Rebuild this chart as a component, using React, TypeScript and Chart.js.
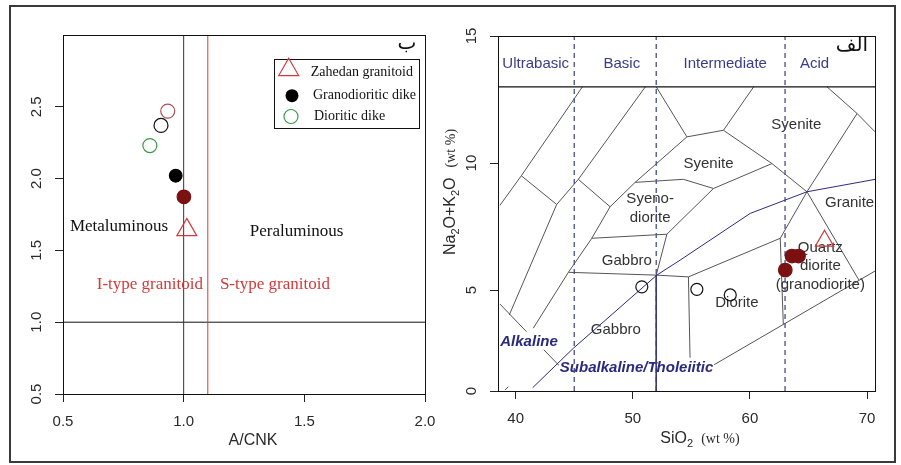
import React, { useEffect, useRef } from 'react';
import { Chart, registerables } from 'chart.js';

Chart.register(...registerables);

type P = [number, number];

// ================= Panel "ب" : A/CNK vs A/NK =================
const ACNK_RANGE: P = [0.5, 2.0];
const ANK_RANGE: P = [0.5, 3.0];
const ACNK_TICKS = [0.5, 1.0, 1.5, 2.0];
const ANK_TICKS = [0.5, 1.0, 1.5, 2.0, 2.5];

const ACNK_ZAHEDAN: P[] = [[1.013, 1.643]];
const ACNK_GRANODIORITIC: P[] = [[0.967, 2.02]];
const ACNK_DIORITIC: P[] = [[0.86, 2.23]];
const ACNK_OPEN_BLACK: P[] = [[0.906, 2.37]];
const ACNK_OPEN_ROSE: P[] = [[0.934, 2.47]];
const ACNK_FILLED_RED: P[] = [[1.001, 1.873]];

const ACNK_META_PERA = 1.0; // vertical black line
const ACNK_I_S = 1.1; // vertical red line
const ANK_LIMIT = 1.0; // horizontal line

const ACNK_NOTES = ['Metaluminous', 'Peraluminous', 'I-type granitoid', 'S-type granitoid'];
const ACNK_NOTE_X = [0.732, 1.468, 0.86, 1.378];
const ACNK_NOTE_Y = [1.663, 1.63, 1.259, 1.26];
const ACNK_NOTE_RED = [false, false, true, true];
const LEGEND_LABELS = ['Zahedan granitoid', 'Granodioritic dike', 'Dioritic dike'];

// ================= Panel "الف" : TAS (plutonic) =================
const SIO2_RANGE: P = [38.49, 70.68];
const ALK_RANGE: P = [1.03, 15];
const SIO2_TICKS = [40, 50, 60, 70];
const ALK_TICKS = [0, 5, 10, 15];

const CLASS_BOUNDS = [45, 52, 63];
const CLASS_BAND_Y = 13;
const CLASS_NAMES = ['Ultrabasic', 'Basic', 'Intermediate', 'Acid'];
const CLASS_NAME_X = [41.71, 49.06, 57.89, 65.52];
const CLASS_NAME_Y = 13.92;

const TAS_B1: P[] = [[38.66, 8.34], [40.48, 9.5], [45.7, 13.0]];
const TAS_B2: P[] = [[40.48, 9.5], [43.5, 8.37], [39.45, 4.02]];
const TAS_B3: P[] = [[43.5, 8.37], [45.35, 9.36], [51.07, 13.0]];
const TAS_B4: P[] = [[45.35, 9.36], [48.06, 8.28]];
const TAS_B5: P[] = [[41.5, 3.5], [44.5, 5.7], [46.5, 7.04], [48.06, 8.28], [50.2, 9.24], [54.62, 11.03]];
const TAS_B6: P[] = [[54.62, 11.03], [52.0, 13.0]];
const TAS_B7: P[] = [[54.62, 11.03], [57.74, 11.29], [60.32, 13.0]];
const TAS_B8: P[] = [[57.74, 11.29], [61.88, 9.98], [64.87, 8.87]];
const TAS_B9: P[] = [[50.2, 9.24], [54.32, 9.36], [56.89, 9.0], [61.88, 9.98]];
const TAS_B10: P[] = [[56.89, 9.0], [52.91, 7.2], [52.0, 5.59]];
const TAS_B11: P[] = [[46.5, 7.04], [52.91, 7.2]];
const TAS_B12: P[] = [[44.5, 5.7], [52.0, 5.59], [54.75, 5.52]];
const TAS_B13: P[] = [[54.75, 5.52], [62.59, 7.04], [64.87, 8.87]];
const TAS_B14: P[] = [[62.59, 7.04], [62.85, 3.65]];
const TAS_B15: P[] = [[54.75, 5.52], [54.9, 2.05]];
const TAS_B16: P[] = [[38.66, 4.45], [43.66, 2.05], [56.89, 2.05], [70.68, 5.75]];
const TAS_B17: P[] = [[64.87, 8.87], [69.3, 5.4]];
const TAS_B18: P[] = [[66.58, 13.0], [69.15, 11.95], [70.68, 11.23]];
const TAS_B19: P[] = [[69.15, 11.95], [64.87, 8.87]];
const TAS_B20: P[] = [[39.09, 1.07], [39.37, 1.2]];

const IRVINE_BARAGAR: P[] = [[41.45, 1.16], [44.92, 2.71], [52.05, 5.59], [54.04, 6.18], [60.03, 8.02], [64.87, 8.87], [70.71, 9.36]];
const SOLID_52: P[] = [[52, 5.59], [52, 1.03]];

const TAS_OPEN_BLACK: P[] = [[50.77, 5.13], [55.47, 5.03], [58.32, 4.81]];
const TAS_FILLED_RED: P[] = [[63.02, 5.79], [63.59, 6.34], [64.15, 6.34]];
const TAS_ZAHEDAN: P[] = [[66.37, 6.94]];

const FIELD_NAMES = ['Syenite', 'Syenite', 'Syeno-\ndiorite', 'Gabbro', 'Gabbro', 'Diorite', 'Granite', 'Quartz\ndiorite\n(granodiorite)'];
const FIELD_X = [63.96, 56.46, 51.48, 49.49, 48.55, 58.89, 68.51, 66.01];
const FIELD_Y = [11.52, 9.98, 8.215, 6.14, 3.43, 4.48, 8.43, 5.95];
const SERIES_NAMES = ['Alkaline', 'Subalkaline/Tholeiitic'];
const SERIES_X = [41.14, 50.32];
const SERIES_Y = [2.97, 1.95];

// ================= helpers =================
const pts = (a: P[]) => a.map(([x, y]) => ({ x, y }));
const GAP = { x: NaN, y: NaN };
const join = (lines: P[][]) => lines.flatMap((l, i) => (i ? [GAP, ...pts(l)] : pts(l)));

const SANS = '"Liberation Sans", Arial, sans-serif';
const SERIF = '"Liberation Serif", "Times New Roman", serif';

const lineDs = (data: any[], color: string, width = 1, dash: number[] = [], order = 0) => ({
  data,
  showLine: true,
  borderColor: color,
  borderWidth: width,
  borderDash: dash,
  pointRadius: 0,
  pointHoverRadius: 0,
  fill: false,
  tension: 0,
  spanGaps: false,
  order,
});

const ptDs = (data: any[], style: string, r: number, border: string, bg: string, bw = 1.2) => ({
  data,
  showLine: false,
  pointStyle: style,
  pointRadius: r,
  pointHoverRadius: r,
  pointBorderColor: border,
  pointBackgroundColor: bg,
  borderColor: border,
  backgroundColor: bg,
  pointBorderWidth: bw,
  order: 0,
});

const axis = (
  range: P,
  vals: number[],
  labels: string[],
  pad: number,
  vertical: boolean,
  size: number,
) => ({
  type: 'linear',
  min: range[0],
  max: range[1],
  afterBuildTicks: (s: any) => {
    s.ticks = vals.map((v) => ({ value: Math.max(range[0], v) }));
  },
  afterFit: (s: any) => {
    if (vertical) s.width = size;
    else s.height = size;
  },
  ticks: {
    autoSkip: false,
    callback: (_v: any, i: number) => labels[i],
    font: { family: SANS, size: 15 },
    color: '#2a2a2a',
    padding: pad,
    minRotation: vertical ? 90 : 0,
    maxRotation: vertical ? 90 : 0,
    crossAlign: vertical ? 'center' : 'near',
  },
  grid: { display: true, drawOnChartArea: false, drawTicks: true, tickLength: 8, color: '#222', lineWidth: 1 },
  border: { display: false },
  title: { display: false },
});

type Run = { t: string; f: string; dy?: number; gap?: number };
function drawRuns(ctx: CanvasRenderingContext2D, runs: Run[], cx: number, cy: number, rot: boolean, color: string) {
  ctx.save();
  ctx.translate(cx, cy);
  if (rot) ctx.rotate(-Math.PI / 2);
  ctx.fillStyle = color;
  ctx.textAlign = 'left';
  ctx.textBaseline = 'alphabetic';
  const ws = runs.map((r) => {
    ctx.font = r.f;
    return ctx.measureText(r.t).width + (r.gap || 0);
  });
  let x = -ws.reduce((a, b) => a + b, 0) / 2;
  runs.forEach((r, i) => {
    ctx.font = r.f;
    ctx.fillText(r.t, x, r.dy || 0);
    x += ws[i];
  });
  ctx.restore();
}

function triangle(ctx: CanvasRenderingContext2D, cx: number, cy: number, r: number) {
  ctx.beginPath();
  for (let k = 0; k < 3; k++) {
    const a = (k * 2 * Math.PI) / 3;
    const px = cx + Math.sin(a) * r;
    const py = cy - Math.cos(a) * r;
    if (k === 0) ctx.moveTo(px, py);
    else ctx.lineTo(px, py);
  }
  ctx.closePath();
}

function frame(ctx: CanvasRenderingContext2D, a: any) {
  ctx.save();
  ctx.strokeStyle = '#111';
  ctx.lineWidth = 1;
  ctx.strokeRect(Math.round(a.left) + 0.5, Math.round(a.top) + 0.5, Math.round(a.right - a.left), Math.round(a.bottom - a.top));
  ctx.restore();
}

function multiLine(ctx: CanvasRenderingContext2D, text: string, x: number, y: number, lh: number) {
  const lines = text.split('\n');
  const y0 = y - ((lines.length - 1) * lh) / 2;
  lines.forEach((l, i) => ctx.fillText(l, x, y0 + i * lh));
}

// ================= component =================
export default function App() {
  const leftRef = useRef<HTMLCanvasElement>(null);
  const rightRef = useRef<HTMLCanvasElement>(null);

  useEffect(() => {
    const leftDecor = {
      id: 'leftDecor',
      afterDatasetsDraw(chart: any) {
        const { ctx, chartArea: a, scales } = chart;
        const xs = scales.x;
        const ys = scales.y;
        frame(ctx, a);
        ctx.save();
        ctx.textAlign = 'center';
        ctx.textBaseline = 'middle';
        ctx.font = `17px ${SERIF}`;
        ACNK_NOTES.forEach((t, i) => {
          ctx.fillStyle = ACNK_NOTE_RED[i] ? '#d43a3a' : '#111';
          ctx.fillText(t, xs.getPixelForValue(ACNK_NOTE_X[i]), ys.getPixelForValue(ACNK_NOTE_Y[i]));
        });
        // panel letter
        ctx.fillStyle = '#111';
        ctx.font = '20px "DejaVu Sans", sans-serif';
        ctx.fillText('ب', a.right - 18, a.top + 9);
        // legend
        const lx = a.right - 151;
        const ly = a.top + 24;
        ctx.strokeStyle = '#111';
        ctx.lineWidth = 1;
        ctx.strokeRect(Math.round(lx) + 0.5, Math.round(ly) + 0.5, 145, 69);
        ctx.strokeStyle = '#d43a3a';
        ctx.lineWidth = 1.2;
        triangle(ctx, lx + 14.7, ly + 13.7 - 2.9, 11.5);
        ctx.stroke();
        ctx.fillStyle = '#000';
        ctx.beginPath();
        ctx.arc(lx + 18, ly + 36.7, 6.5, 0, Math.PI * 2);
        ctx.fill();
        ctx.strokeStyle = '#3a9a4a';
        ctx.beginPath();
        ctx.arc(lx + 17, ly + 57.5, 7, 0, Math.PI * 2);
        ctx.stroke();
        ctx.fillStyle = '#111';
        ctx.font = `14px ${SERIF}`;
        ctx.textAlign = 'left';
        const tx = [36.7, 39, 40];
        const ty = [13.7, 36.7, 57.7];
        LEGEND_LABELS.forEach((t, i) => ctx.fillText(t, lx + tx[i], ly + ty[i]));
        ctx.restore();
        drawRuns(ctx, [{ t: 'A/CNK', f: `16px ${SANS}` }], (a.left + a.right) / 2 + 9, 445, false, '#2a2a2a');
      },
    };

    const left = new Chart(leftRef.current as HTMLCanvasElement, {
      type: 'scatter',
      data: {
        datasets: [
          lineDs(pts([[ACNK_META_PERA, ANK_RANGE[0]], [ACNK_META_PERA, ANK_RANGE[1]]]), '#333', 1, [], 5),
          lineDs(pts([[ACNK_I_S, ANK_RANGE[0]], [ACNK_I_S, ANK_RANGE[1]]]), '#d43a3a', 1, [], 5),
          lineDs(pts([[ACNK_RANGE[0], ANK_LIMIT], [ACNK_RANGE[1], ANK_LIMIT]]), '#111', 1, [], 5),
          ptDs(pts(ACNK_OPEN_ROSE), 'circle', 7, '#a85454', 'rgba(0,0,0,0)'),
          ptDs(pts(ACNK_OPEN_BLACK), 'circle', 7, '#111', 'rgba(0,0,0,0)'),
          ptDs(pts(ACNK_DIORITIC), 'circle', 7, '#3a9a4a', 'rgba(0,0,0,0)'),
          ptDs(pts(ACNK_GRANODIORITIC), 'circle', 6.3, '#000', '#000'),
          ptDs(pts(ACNK_FILLED_RED), 'circle', 6.8, '#7a1212', '#7a1212'),
          ptDs(pts(ACNK_ZAHEDAN), 'triangle', 11.5, '#d43a3a', 'rgba(0,0,0,0)'),
        ] as any,
      },
      options: {
        animation: false,
        responsive: false,
        devicePixelRatio: 1,
        events: [],
        layout: { padding: { left: 0, right: 476, top: 35, bottom: 0 } },
        plugins: { legend: { display: false }, tooltip: { enabled: false } },
        scales: {
          x: axis(ACNK_RANGE, ACNK_TICKS, ACNK_TICKS.map((v) => v.toFixed(1)), 10.7, false, 71),
          y: axis(ANK_RANGE, ANK_TICKS, ANK_TICKS.map((v) => v.toFixed(1)), 7.8, true, 63),
        } as any,
      },
      plugins: [leftDecor],
    });

    const rightFields = {
      id: 'rightFields',
      afterDatasetDraw(chart: any, args: any) {
        if (args.index !== 0) return;
        const { ctx, scales } = chart;
        const xs = scales.x;
        const ys = scales.y;
        ctx.save();
        ctx.textAlign = 'center';
        ctx.textBaseline = 'middle';
        ctx.font = `15px ${SANS}`;
        ctx.fillStyle = '#333';
        FIELD_NAMES.forEach((t, i) => multiLine(ctx, t, xs.getPixelForValue(FIELD_X[i]), ys.getPixelForValue(FIELD_Y[i]), 18.5));
        ctx.font = `italic bold 15px ${SANS}`;
        SERIES_NAMES.forEach((t, i) => {
          const x = xs.getPixelForValue(SERIES_X[i]);
          const y = ys.getPixelForValue(SERIES_Y[i]);
          const w = ctx.measureText(t).width;
          ctx.fillStyle = '#fff';
          ctx.fillRect(x - w / 2 - 1, y - 10, w + 2, 18);
          ctx.fillStyle = '#2a2a7e';
          ctx.fillText(t, x, y);
        });
        ctx.restore();
      },
    };

    const rightDecor = {
      id: 'rightDecor',
      afterDatasetsDraw(chart: any) {
        const { ctx, chartArea: a, scales } = chart;
        const xs = scales.x;
        const ys = scales.y;
        frame(ctx, a);
        ctx.save();
        ctx.textAlign = 'center';
        ctx.textBaseline = 'middle';
        ctx.font = `15px ${SANS}`;
        ctx.fillStyle = '#3b3b8c';
        CLASS_NAMES.forEach((t, i) => ctx.fillText(t, xs.getPixelForValue(CLASS_NAME_X[i]), ys.getPixelForValue(CLASS_NAME_Y)));
        ctx.fillStyle = '#111';
        ctx.font = '20px "DejaVu Sans", sans-serif';
        ctx.fillText('الف', a.right - 23, a.top + 10);
        ctx.restore();
        const big = `16px ${SANS}`;
        const sub = `11px ${SANS}`;
        const ser = `14px ${SERIF}`;
        drawRuns(
          ctx,
          [
            { t: 'SiO', f: big },
            { t: '2', f: sub, dy: 4, gap: 8 },
            { t: '(wt %)', f: ser },
          ],
          700,
          442.5,
          false,
          '#2a2a2a',
        );
        drawRuns(
          ctx,
          [
            { t: 'Na', f: big },
            { t: '2', f: sub, dy: 4 },
            { t: 'O+K', f: big },
            { t: '2', f: sub, dy: 4 },
            { t: 'O', f: big, gap: 10 },
            { t: '(wt %)', f: ser },
          ],
          455,
          192,
          true,
          '#2a2a2a',
        );
      },
    };

    const right = new Chart(rightRef.current as HTMLCanvasElement, {
      type: 'scatter',
      data: {
        datasets: [
          lineDs(
            join([TAS_B1, TAS_B2, TAS_B3, TAS_B4, TAS_B5, TAS_B6, TAS_B7, TAS_B8, TAS_B9, TAS_B10, TAS_B11, TAS_B12, TAS_B13, TAS_B14, TAS_B15, TAS_B16, TAS_B17, TAS_B18, TAS_B19, TAS_B20]),
            '#555',
            1,
            [],
            10,
          ),
          lineDs(pts(IRVINE_BARAGAR), '#2b2b80', 1, [], 5),
          lineDs(pts(SOLID_52), '#3a3a7a', 1, [], 5),
          lineDs(join(CLASS_BOUNDS.map((b) => [[b, ALK_RANGE[0]], [b, ALK_RANGE[1]]] as P[])), '#4b4b8c', 1.3, [5, 4], 6),
          lineDs(pts([[SIO2_RANGE[0], CLASS_BAND_Y], [SIO2_RANGE[1], CLASS_BAND_Y]]), '#111', 1.3, [], 5),
          ptDs(pts(TAS_OPEN_BLACK), 'circle', 6, '#111', 'rgba(0,0,0,0)'),
          ptDs(pts(TAS_FILLED_RED), 'circle', 6.8, '#7a1010', '#7a1010'),
          ptDs(pts(TAS_ZAHEDAN), 'triangle', 10.6, '#d43a3a', 'rgba(0,0,0,0)'),
        ] as any,
      },
      options: {
        animation: false,
        responsive: false,
        devicePixelRatio: 1,
        events: [],
        layout: { padding: { left: 430, right: 26, top: 36, bottom: 0 } },
        plugins: { legend: { display: false }, tooltip: { enabled: false } },
        scales: {
          x: axis(SIO2_RANGE, SIO2_TICKS, SIO2_TICKS.map(String), 11.3, false, 74),
          y: axis(ALK_RANGE, ALK_TICKS, ALK_TICKS.map(String), 10, true, 68),
        } as any,
      },
      plugins: [rightFields, rightDecor],
    });

    return () => {
      left.destroy();
      right.destroy();
    };
  }, []);

  const canvasStyle: React.CSSProperties = { position: 'absolute', left: 0, top: 0, width: 901, height: 465, pointerEvents: 'none' };
  return (
    <div style={{ position: 'absolute', left: 0, top: 0, width: 901, height: 465, background: '#fff', overflow: 'hidden' }}>
      <div style={{ position: 'absolute', left: 9, top: 5, width: 887, height: 458, border: '2px solid #3a3a3a', boxSizing: 'border-box' }} />
      <canvas ref={leftRef} width={901} height={465} style={canvasStyle} />
      <canvas ref={rightRef} width={901} height={465} style={canvasStyle} />
    </div>
  );
}
